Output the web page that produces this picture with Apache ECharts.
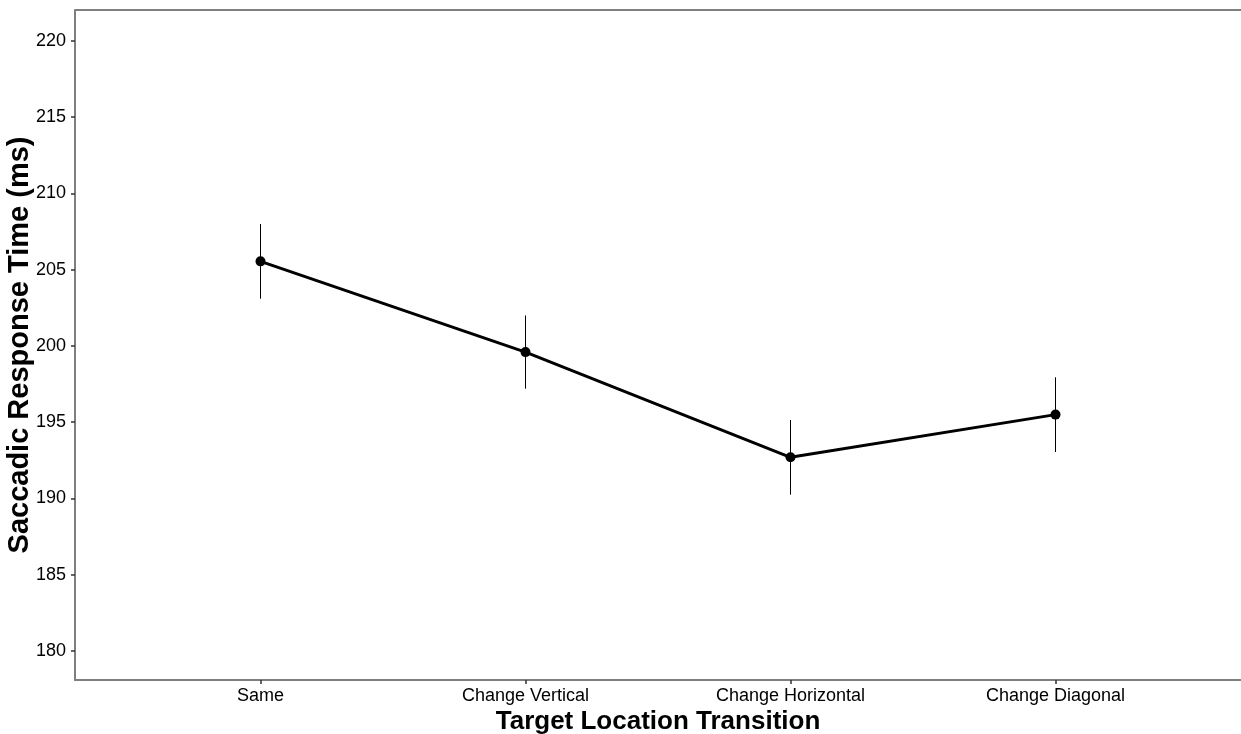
<!DOCTYPE html>
<html>
<head>
<meta charset="utf-8">
<script src="https://cdn.jsdelivr.net/npm/echarts@6/dist/echarts.min.js"></script>
<style>
  html, body { margin: 0; padding: 0; background: #fff; overflow: hidden; }
  #chart { width: 1241px; height: 734px; }
</style>
</head>
<body>
<div id="chart"></div>
<script>
// Saccadic response time by target location transition (mean ± error)
const categories = ['Same', 'Change Vertical', 'Change Horizontal', 'Change Diagonal'];
const meanRT = [205.55, 199.6, 192.7, 195.5];
const upperRT = [208.0, 202.0, 195.15, 197.95];
const lowerRT = [203.1, 197.2, 190.25, 193.05];
const yTicks = [180, 185, 190, 195, 200, 205, 210, 215, 220];

const FONT = 'Liberation Sans, Arial, Helvetica, sans-serif';
const idx = categories.map((_, i) => i);

const chart = echarts.init(document.getElementById('chart'), null, { renderer: 'canvas' });

chart.setOption({
  backgroundColor: '#ffffff',
  animation: false,
  grid: {
    left: 75, right: 0, top: 10, bottom: 54,
    containLabel: false,
    outerBoundsMode: 'none'
  },
  xAxis: {
    type: 'value',
    min: -0.7,
    max: 3.7,
    name: 'Target Location Transition',
    nameLocation: 'middle',
    nameGap: 29,
    nameMoveOverlap: false,
    nameTextStyle: { fontFamily: FONT, fontSize: 26, fontWeight: 'bold', color: '#000' },
    axisLine: { show: true, onZero: false, lineStyle: { color: '#7f7f7f', width: 2 } },
    axisTick: { show: true, customValues: idx, length: 4, lineStyle: { color: '#333', width: 1.5 } },
    axisLabel: {
      customValues: idx,
      formatter: v => categories[Math.round(v)] || '',
      fontFamily: FONT, fontSize: 18, color: '#000', margin: 7
    },
    splitLine: { show: false }
  },
  yAxis: {
    type: 'value',
    min: 178.1,
    max: 222.03,
    name: 'Saccadic Response Time (ms)',
    nameLocation: 'middle',
    nameGap: 41,
    nameMoveOverlap: false,
    nameRotate: 90,
    nameTextStyle: { fontFamily: FONT, fontSize: 29, fontWeight: 'bold', color: '#000' },
    axisLine: { show: true, onZero: false, lineStyle: { color: '#7f7f7f', width: 2 } },
    axisTick: { show: true, customValues: yTicks, length: 4, lineStyle: { color: '#333', width: 1.5 } },
    axisLabel: {
      customValues: yTicks,
      fontFamily: FONT, fontSize: 18, color: '#000', margin: 9
    },
    splitLine: { show: false }
  },
  graphic: [
    // top border of the panel
    {
      type: 'line',
      shape: { x1: 75, y1: 10, x2: 1241, y2: 10 },
      style: { stroke: '#7f7f7f', lineWidth: 2 },
      z: 10
    }
  ],
  series: [
    {
      type: 'custom',
      name: 'error',
      data: idx.map(i => [i, lowerRT[i], upperRT[i]]),
      renderItem: (params, api) => {
        const lo = api.coord([api.value(0), api.value(1)]);
        const hi = api.coord([api.value(0), api.value(2)]);
        return {
          type: 'line',
          shape: { x1: lo[0], y1: lo[1], x2: hi[0], y2: hi[1] },
          style: { stroke: '#000', lineWidth: 1 }
        };
      },
      z: 1
    },
    {
      type: 'line',
      name: 'mean',
      data: idx.map(i => [i, meanRT[i]]),
      lineStyle: { color: '#000', width: 3 },
      itemStyle: { color: '#000' },
      symbol: 'circle',
      symbolSize: 10,
      z: 2
    }
  ]
});
</script>
</body>
</html>
